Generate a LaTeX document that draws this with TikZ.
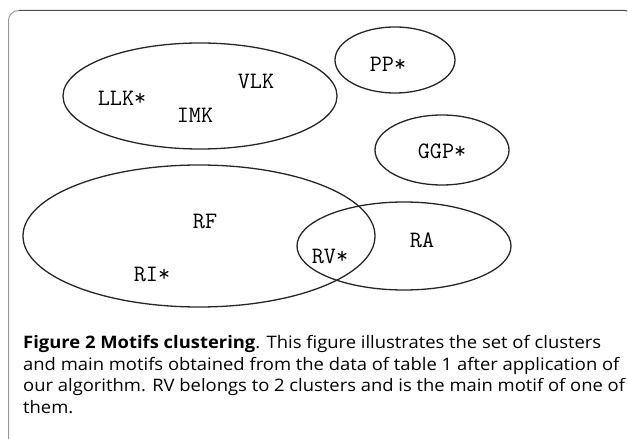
\documentclass[tikz,border=0pt]{standalone}
\usepackage{fontspec}
\setmainfont{Open Sans}[FakeStretch=1.07]
\usepackage{tikz}

\begin{document}
\begin{tikzpicture}[line join=bevel,
  cluster/.style={draw=black!85,line width=1.3bp},
  motif/.style={draw=none,inner sep=0pt,font=\ttfamily\fontsize{23.5bp}{25bp}\selectfont},
  caption/.style={draw=none,inner sep=0pt,anchor=north west,align=left,
    font=\fontsize{17.2bp}{21.7bp}\selectfont}]
\useasboundingbox (0bp,0bp) rectangle (628bp,439bp);
%% frame
\draw [black!40,line width=1bp] (8.5bp,0bp) -- (8.5bp,418.5bp) arc (180:90:10bp);
\draw [black!70,line width=1bp] (18.5bp,428.5bp) -- (625bp,428.5bp) arc (90:60:4bp);
%% clusters
\draw [cluster] (200bp,343bp) ellipse [x radius=137bp,y radius=53bp];
\draw [cluster] (395bp,379bp) ellipse [x radius=60bp,y radius=33bp];
\draw [cluster] (442bp,289bp) ellipse [x radius=67bp,y radius=35bp];
\draw [cluster] (199bp,203bp) ellipse [x radius=176bp,y radius=71bp];
\draw [cluster] (404bp,193bp) ellipse [x radius=107bp,y radius=44bp];
%% motifs
\node (PP) at (388bp,375bp) [motif] {PP*};
  \node (VLK) at (256bp,358bp) [motif] {VLK};
  \node (LLK) at (122bp,341bp) [motif] {LLK*};
  \node (IMK) at (195bp,324bp) [motif] {IMK};
  \node (GGP) at (442bp,288bp) [motif] {GGP*};
  \node (RF) at (205bp,218bp) [motif] {RF};
  \node (RA) at (422bp,199bp) [motif] {RA};
  \node (RV) at (330bp,183bp) [motif] {RV*};
  \node (RI) at (152bp,165bp) [motif] {RI*};
%% caption
\node (caption) at (23bp,104bp) [caption] {\textbf{Figure 2 Motifs clustering}. This figure illustrates the set of clusters\\
and main motifs obtained from the data of table 1 after application of\\
our algorithm. RV belongs to 2 clusters and is the main motif of one of\\
them.};
%
\end{tikzpicture}
\end{document}
